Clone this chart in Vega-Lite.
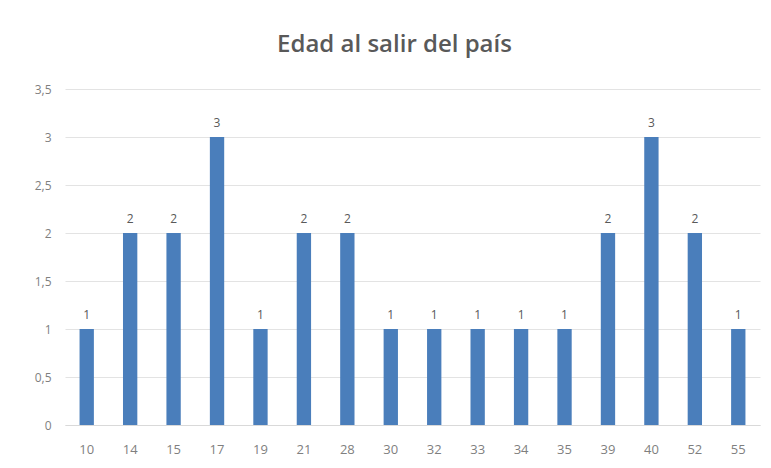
{
  "$schema": "https://vega.github.io/schema/vega-lite/v6.json",
  "autosize": {"type": "none"},
  "width": 695,
  "height": 336,
  "padding": {"left": 65, "top": 89, "right": 11, "bottom": 43},
  "background": "white",
  "title": {
    "text": "Edad al salir del país",
    "fontSize": 24,
    "font": "Open Sans",
    "fontWeight": 600,
    "color": "#595959",
    "anchor": "middle",
    "offset": 26,
    "dx": -18
  },
  "data": {
    "values": [
      {"edad": "10", "n": 1},
      {"edad": "14", "n": 2},
      {"edad": "15", "n": 2},
      {"edad": "17", "n": 3},
      {"edad": "19", "n": 1},
      {"edad": "21", "n": 2},
      {"edad": "28", "n": 2},
      {"edad": "30", "n": 1},
      {"edad": "32", "n": 1},
      {"edad": "33", "n": 1},
      {"edad": "34", "n": 1},
      {"edad": "35", "n": 1},
      {"edad": "39", "n": 2},
      {"edad": "40", "n": 3},
      {"edad": "52", "n": 2},
      {"edad": "55", "n": 1}
    ]
  },
  "encoding": {
    "x": {
      "field": "edad",
      "type": "ordinal",
      "sort": null,
      "scale": {"paddingInner": 0.67, "paddingOuter": 0.335},
      "axis": {
        "title": null,
        "labelAngle": 0,
        "ticks": false,
        "domain": true,
        "domainColor": "#d9d9d9",
        "labelPadding": 18,
        "labelFontSize": 13,
        "labelFont": "Open Sans",
        "labelColor": "#7f7f7f"
      }
    },
    "y": {
      "field": "n",
      "type": "quantitative",
      "scale": {"domain": [0, 3.5]},
      "axis": {
        "title": null,
        "values": [0, 0.5, 1, 1.5, 2, 2.5, 3, 3.5],
        "labelExpr": "replace(format(datum.value, '~g'), '.', ',')",
        "domain": false,
        "ticks": false,
        "labelPadding": 14,
        "labelFontSize": 12,
        "labelFont": "Open Sans",
        "labelColor": "#7f7f7f",
        "gridColor": "#e3e3e3"
      }
    }
  },
  "layer": [
    {"mark": {"type": "bar", "color": "#4A7EBB"}},
    {
      "mark": {"type": "text", "dy": -14, "fontSize": 12, "font": "Open Sans", "color": "#595959"},
      "encoding": {"text": {"field": "n", "type": "quantitative"}}
    }
  ],
  "config": {"view": {"stroke": null}}
}
